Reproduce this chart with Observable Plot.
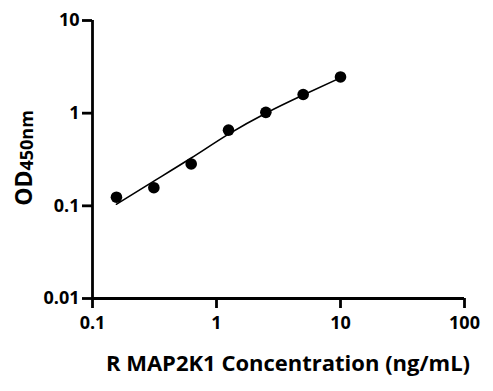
<!DOCTYPE html>
<html><head><meta charset="utf-8">
<script src="https://cdn.jsdelivr.net/npm/d3@7"></script>
<script src="https://cdn.jsdelivr.net/npm/@observablehq/plot@0.6"></script>
<style>body{margin:0;background:#fff}</style>
</head><body><div id="chart"></div>
<script>
const concentrations = [0.156, 0.3125, 0.625, 1.25, 2.5, 5, 10];
const odValues = [0.124, 0.157, 0.283, 0.656, 1.02, 1.59, 2.46];
const fitConc = [0.156, 0.3125, 0.625, 1.25, 2.5, 5, 10];
const fitOD = [0.104, 0.185, 0.328, 0.594, 1.0, 1.57, 2.41];
const xTicks = [0.1, 1, 10, 100];
const xTickLabels = ["0.1", "1", "10", "100"];
const yTicks = [0.01, 0.1, 1, 10];
const yTickLabels = ["0.01", "0.1", "1", "10"];
const xTitle = "R MAP2K1 Concentration (ng/mL)";
const yTitleMain = "OD";
const yTitleSub = "450nm";

const points = concentrations.map((c, i) => ({c, od: odValues[i]}));
const fit = fitConc.map((c, i) => ({c, od: fitOD[i]}));

const W = 493, H = 391, ML = 92, MR = 29, MT = 20, MB = 93;

const plot = Plot.plot({
  width: W, height: H,
  marginLeft: ML, marginRight: MR, marginTop: MT, marginBottom: MB,
  style: {fontFamily: "'Open Sans', sans-serif", fontWeight: "bold", color: "#000", background: "#fff"},
  x: {type: "log", domain: [0.1, 100]},
  y: {type: "log", domain: [0.01, 10]},
  marks: [
    Plot.axisX({ticks: xTicks, tickFormat: d => xTickLabels[xTicks.indexOf(d)], tickSize: 10, tickPadding: 8, fontSize: 18, strokeWidth: 2.8, label: null}),
    Plot.axisY({ticks: yTicks, tickFormat: d => yTickLabels[yTicks.indexOf(d)], tickSize: 10, tickPadding: 3, fontSize: 18, strokeWidth: 2.8, label: null}),
    Plot.ruleX([0.1], {stroke: "#000", strokeWidth: 2.8}),
    Plot.ruleY([0.01], {stroke: "#000", strokeWidth: 2.8}),
    Plot.line(fit, {x: "c", y: "od", curve: "natural", stroke: "#000", strokeWidth: 1.6}),
    Plot.dot(points, {x: "c", y: "od", r: 5.8, fill: "#000", stroke: "none"})
  ]
});

const svg = d3.select(plot);
svg.append("text")
  .attr("x", 288).attr("y", 371)
  .attr("text-anchor", "middle")
  .attr("font-size", 22).attr("font-weight", "bold").attr("fill", "#000")
  .text(xTitle);
const yt = svg.append("text")
  .attr("transform", `translate(32,158) rotate(-90)`)
  .attr("text-anchor", "middle")
  .attr("font-weight", "bold").attr("fill", "#000");
yt.append("tspan").attr("font-size", 23).text(yTitleMain);
yt.append("tspan").attr("font-size", 18).attr("dy", 1).text(yTitleSub);

document.getElementById("chart").appendChild(plot);
</script>
</body></html>
